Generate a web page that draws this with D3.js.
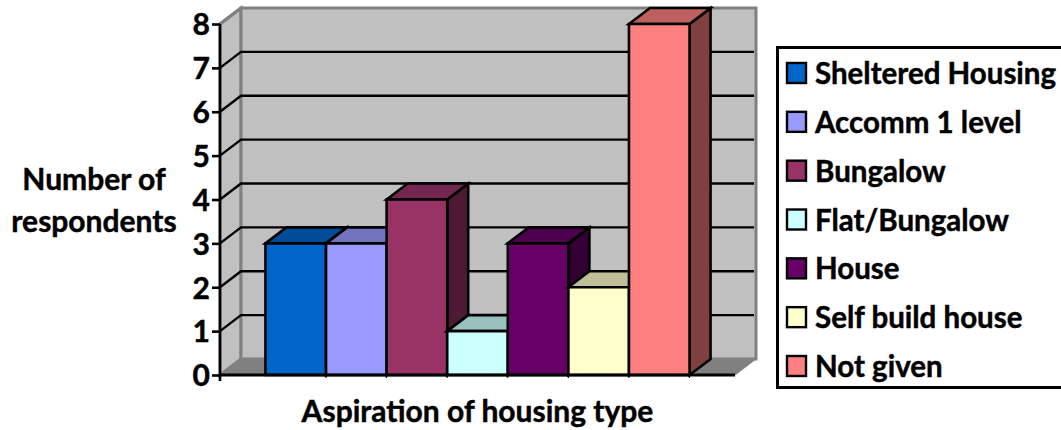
<!DOCTYPE html>
<html><head><meta charset="utf-8">
<script src="https://cdnjs.cloudflare.com/ajax/libs/d3/7.8.5/d3.min.js"></script>
<style>html,body{margin:0;padding:0;background:#fff;overflow:hidden}svg{display:block}
text{font-family:Lato,"Open Sans",sans-serif;font-weight:700;fill:#000;stroke:#000;stroke-width:0.45px}</style></head>
<body><svg id="c" width="1061" height="430"></svg>
<script>
const categories=["Sheltered Housing","Accomm 1 level","Bungalow","Flat/Bungalow","House","Self build house","Not given"];
const values=[3,3,4,1,3,2,8];
const frontColors=["#0066CC","#9999FF","#993366","#CCFFFF","#660066","#FFFFCC","#FF8080"];
const topColors=["#004C99","#7373BF","#732650","#99BFBF","#4D004D","#BFBF99","#BF6060"];
const sideColors=["#00264D","#4D4D80","#4D1A33","#668080","#330033","#808066","#804040"];
const yTicks=[0,1,2,3,4,5,6,7,8];
const xAxisTitle="Aspiration of housing type";
const yAxisTitle=["Number of","respondents"];

const dx=21,dy=-16;
const svg=d3.select("#c");
const y=d3.scaleLinear().domain([0,8]).range([375,24]);
const x=d3.scaleBand().domain(categories).range([220,735]).paddingInner(0).paddingOuter(0.75);
const line=d3.line();
const poly=(pts,fill,stroke,w)=>svg.append("path").attr("d",line(pts)+"Z").attr("fill",fill).attr("stroke",stroke).attr("stroke-width",w).attr("stroke-linejoin","miter");

// walls and floor
poly([[220,y(0)],[220,y(8)],[220+dx,y(8)+dy],[220+dx,y(0)+dy]],"#C0C0C0","#808080",3);
poly([[220+dx,y(8)+dy],[735+dx,y(8)+dy],[735+dx,y(0)+dy],[220+dx,y(0)+dy]],"#C0C0C0","#808080",3);
poly([[220,y(0)],[735,y(0)],[735+dx,y(0)+dy],[220+dx,y(0)+dy]],"#808080","#808080",1);

// gridlines
yTicks.filter(v=>v>0&&v<8).forEach(v=>{
  svg.append("path").attr("d",line([[220,y(v)],[220+dx,y(v)+dy],[754,y(v)+dy]])).attr("fill","none").attr("stroke","#000").attr("stroke-width",2.4);
});
svg.append("path").attr("d",line([[220,y(8)],[220+dx,y(8)+dy]])).attr("fill","none").attr("stroke","#808080").attr("stroke-width",3);

// bars
categories.forEach((c,i)=>{
  const x0=x(c),x1=x0+x.bandwidth(),y0=y(0),yv=y(values[i]);
  poly([[x1,yv],[x1+dx,yv+dy],[x1+dx,y0+dy],[x1,y0]],sideColors[i],"#000",2.6);
  poly([[x0,yv],[x0+dx,yv+dy],[x1+dx,yv+dy],[x1,yv]],topColors[i],"#000",2.6);
  poly([[x0,yv],[x1,yv],[x1,y0],[x0,y0]],frontColors[i],"#000",2.6);
});

// axes
const yAxis=svg.append("g").attr("transform","translate(220,0)").call(d3.axisLeft(y).tickValues(yTicks).tickSize(8).tickPadding(2).tickFormat(d3.format("d")));
yAxis.selectAll("path,line").attr("stroke","#000").attr("stroke-width",2.6);
yAxis.select(".domain").attr("d","M0,"+y(8)+"V381");
yAxis.selectAll("text").attr("font-size",30).style("font-family","Lato").style("font-weight",700).attr("dy","0.36em");
svg.append("line").attr("x1",219).attr("x2",735).attr("y1",y(0)).attr("y2",y(0)).attr("stroke","#000").attr("stroke-width",3);
categories.forEach(c=>{
  svg.append("line").attr("x1",x(c)+x.bandwidth()).attr("x2",x(c)+x.bandwidth()).attr("y1",y(0)).attr("y2",y(0)+3).attr("stroke","#000").attr("stroke-width",1);
});

// titles
svg.append("text").attr("x",477.5).attr("y",422).attr("text-anchor","middle").attr("font-size",30).text(xAxisTitle);
yAxisTitle.forEach((t,i)=>svg.append("text").attr("x",94).attr("y",190+i*42).attr("text-anchor","middle").attr("font-size",30).text(t));

// legend
svg.append("rect").attr("x",777.5).attr("y",47.5).attr("width",300).attr("height",340).attr("fill","#fff").attr("stroke","#000").attr("stroke-width",3);
const ly=d3.scalePoint().domain(categories).range([73,366]);
categories.forEach((c,i)=>{
  svg.append("rect").attr("x",787).attr("y",ly(c)-10).attr("width",19).attr("height",20).attr("fill",frontColors[i]).attr("stroke","#000").attr("stroke-width",2.4);
  svg.append("text").attr("x",815).attr("y",ly(c)+11).attr("font-size",29.5).text(c);
});
</script></body></html>
